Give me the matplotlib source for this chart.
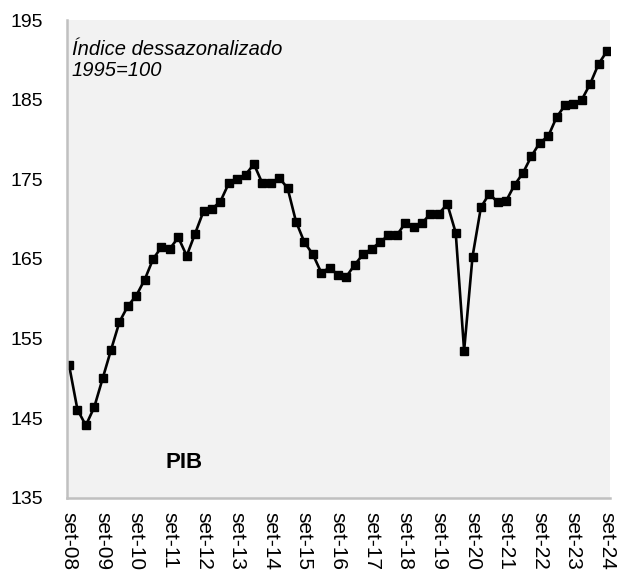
import matplotlib.pyplot as plt

# quarterly GDP index, set-08 .. set-24
pib = [151.7, 146.1, 144.1, 146.4, 150.0, 153.6, 157.1, 159.1, 160.4, 162.4,
       165.0, 166.5, 166.3, 167.7, 165.4, 168.2, 171.0, 171.3, 172.2, 174.5,
       175.1, 175.6, 176.9, 174.5, 174.5, 175.2, 173.9, 169.7, 167.1, 165.6,
       163.3, 163.9, 163.0, 162.8, 164.3, 165.6, 166.3, 167.1, 168.0, 168.0,
       169.5, 169.0, 169.5, 170.7, 170.7, 171.9, 168.3, 153.5, 165.3, 171.5,
       173.2, 172.1, 172.3, 174.3, 175.8, 177.9, 179.6, 180.4, 182.8, 184.3,
       184.5, 185.0, 187.0, 189.5, 191.1]
x_labels = ["set-%02d" % y for y in range(8, 25)]
y_ticks = [135, 145, 155, 165, 175, 185, 195]

plt.rcParams['font.family'] = ['Liberation Sans', 'DejaVu Sans']

fig = plt.figure(figsize=(6.17, 5.73), dpi=100)
ax = fig.add_axes([0.1086, 0.131, 0.880, 0.834])
ax.set_facecolor('#f2f2f2')

x = list(range(len(pib)))
ax.plot(x, pib, color='black', lw=1.9, marker='s', markersize=5.3)

ax.set_xlim(-0.24, 64.35)
ax.set_ylim(135, 195)
ax.set_yticks(y_ticks)
ax.set_xticks(list(range(0, len(pib), 4)))
ax.set_xticklabels(x_labels, rotation=270, fontsize=15)
ax.tick_params(axis='y', labelsize=14, length=0, pad=17)
ax.tick_params(axis='x', length=0, pad=10)

for s in ['top', 'right']:
    ax.spines[s].set_visible(False)
for s in ['left', 'bottom']:
    ax.spines[s].set_color('#c0c0c0')
    ax.spines[s].set_linewidth(1.8)

ax.text(0.009, 0.958, "Índice dessazonalizado\n1995=100", transform=ax.transAxes,
        fontsize=14.5, style='italic', va='top', ha='left', linespacing=1.15)
ax.text(0.215, 0.075, "PIB", transform=ax.transAxes, fontsize=16,
        fontweight='bold', va='center', ha='center')

fig.savefig('out.png', dpi=100)
